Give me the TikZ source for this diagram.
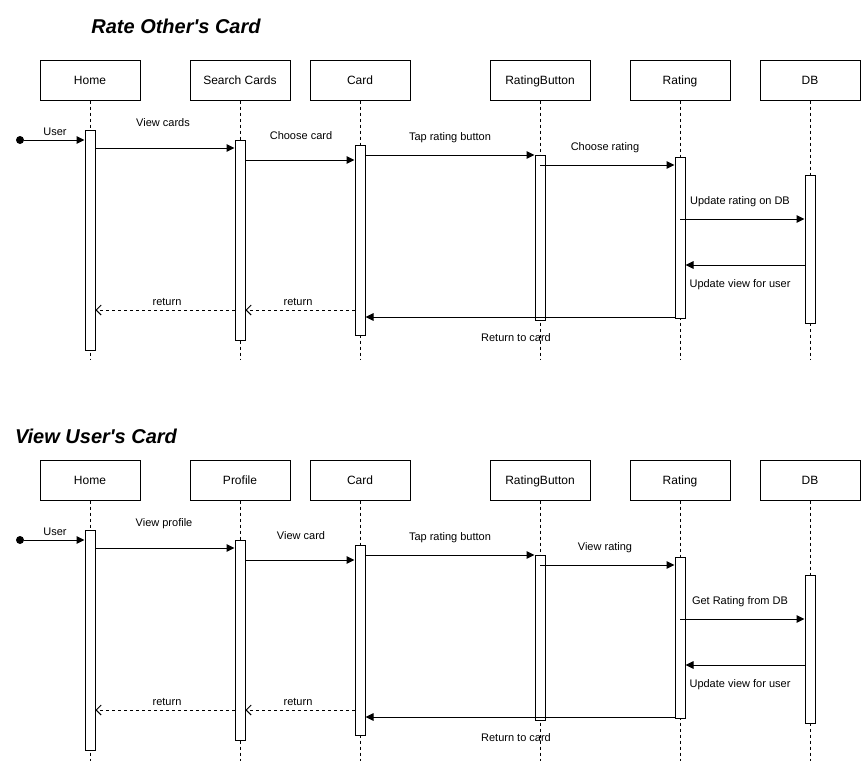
\documentclass[tikz,border=0pt]{standalone}
\usepackage{fontspec}
\setmainfont{Liberation Sans}
\newfontfamily\ttlfont{Liberation Sans}
\usetikzlibrary{arrows.meta}
\begin{document}
\begin{tikzpicture}[x=1pt,y=-1pt,
  head/.style={draw, line width=1pt, minimum width=100pt, minimum height=40pt, inner sep=0pt, text height=9.8pt, text depth=1.2pt, font=\fontsize{12}{14}\selectfont, fill=white},
  act/.style={draw, line width=1pt, fill=white, minimum width=10pt, inner sep=0pt, anchor=north},
  life/.style={line width=1pt, dash pattern=on 3pt off 3pt},
  msg/.style={line width=1pt, -{Triangle[length=8pt,width=7.5pt]}},
  ret/.style={line width=1pt, dash pattern=on 3pt off 3pt, -{Straight Barb[length=5pt,width=10pt]}},
  lbl/.style={font=\fontsize{11}{13}\selectfont, inner sep=0pt, text height=8.8pt, text depth=0.8pt},
  ttl/.style={font=\ttlfont\fontsize{20}{24}\selectfont\bfseries\itshape, inner sep=0pt},
  startdot/.style={circle, fill, inner sep=0pt, minimum size=8pt}]
\useasboundingbox (0,0) rectangle (861,761);

% ================= Top diagram =================
\node[ttl] (t1) at (176,26) {Rate Other's Card};

\node[head] (aHome) at (90,80) {Home};
\node[head] (aSearch) at (240,80) {Search Cards};
\node[head] (aCard) at (360,80) {Card};
\node[head] (aRB) at (540,80) {RatingButton};
\node[head] (aRating) at (680,80) {Rating};
\node[head] (aDB) at (810,80) {DB};

\coordinate (aHomeE) at (90,360);
\coordinate (aSearchE) at (240,360);
\coordinate (aCardE) at (360,360);
\coordinate (aRBE) at (540,360);
\coordinate (aRatingE) at (680,360);
\coordinate (aDBE) at (810,360);
\draw[life] (aHome.south) -- (aHomeE);
\draw[life] (aSearch.south) -- (aSearchE);
\draw[life] (aCard.south) -- (aCardE);
\draw[life] (aRB.south) -- (aRBE);
\draw[life] (aRating.south) -- (aRatingE);
\draw[life] (aDB.south) -- (aDBE);

\node[act, minimum height=220pt] (aHomeA) at (90,130) {};
\node[act, minimum height=200pt] (aSearchA) at (240,140) {};
\node[act, minimum height=190pt] (aCardA) at (360,145) {};
\node[act, minimum height=165pt] (aRBA) at (540,155) {};
\node[act, minimum height=161pt] (aRatingA) at (680,157) {};
\node[act, minimum height=148pt] (aDBA) at (810,175) {};

\node[startdot] (aStart) at (20,140) {};
\draw[msg] (aStart) -- (aHomeA.west |- aStart);
\node[lbl] (aL1) at (55,131) {User};

\draw[msg] (aHomeA.east |- 0,148) -- (aSearchA.west |- 0,148);
\node[lbl] (aL2) at (163,122) {View cards};
\draw[msg] (aSearchA.east |- 0,160) -- (aCardA.west |- 0,160);
\node[lbl] (aL3) at (301,135) {Choose card};
\draw[msg] (aCardA.east |- 0,155) -- (aRBA.west |- 0,155);
\node[lbl] (aL4) at (450,136) {Tap rating button};
\draw[msg] (aRBA.center |- 0,165) -- (aRatingA.west |- 0,165);
\node[lbl] (aL5) at (605,146) {Choose rating};
\draw[msg] (aRatingA.center |- 0,219) -- (aDBA.west |- 0,219);
\node[lbl] (aL6) at (740,200) {Update rating on DB};
\draw[msg] (aDBA.west |- 0,265) -- (aRatingA.east |- 0,265);
\node[lbl] (aL7) at (740,283) {Update view for user};
\draw[msg] (aRatingA.west |- 0,317) -- (aCardA.east |- 0,317);
\node[lbl] (aL8) at (516,337) {Return to card};
\draw[ret] (aCardA.west |- 0,310) -- (aSearchA.east |- 0,310);
\node[lbl] (aL9) at (298,301) {return};
\draw[ret] (aSearchA.west |- 0,310) -- (aHomeA.east |- 0,310);
\node[lbl] (aL10) at (167,301) {return};

% ================= Bottom diagram =================
\node[ttl] (t2) at (96,436) {View User's Card};

\node[head] (bHome) at (90,480) {Home};
\node[head] (bProfile) at (240,480) {Profile};
\node[head] (bCard) at (360,480) {Card};
\node[head] (bRB) at (540,480) {RatingButton};
\node[head] (bRating) at (680,480) {Rating};
\node[head] (bDB) at (810,480) {DB};

\coordinate (bHomeE) at (90,761);
\coordinate (bProfileE) at (240,761);
\coordinate (bCardE) at (360,761);
\coordinate (bRBE) at (540,761);
\coordinate (bRatingE) at (680,761);
\coordinate (bDBE) at (810,761);
\draw[life] (bHome.south) -- (bHomeE);
\draw[life] (bProfile.south) -- (bProfileE);
\draw[life] (bCard.south) -- (bCardE);
\draw[life] (bRB.south) -- (bRBE);
\draw[life] (bRating.south) -- (bRatingE);
\draw[life] (bDB.south) -- (bDBE);

\node[act, minimum height=220pt] (bHomeA) at (90,530) {};
\node[act, minimum height=200pt] (bProfileA) at (240,540) {};
\node[act, minimum height=190pt] (bCardA) at (360,545) {};
\node[act, minimum height=165pt] (bRBA) at (540,555) {};
\node[act, minimum height=161pt] (bRatingA) at (680,557) {};
\node[act, minimum height=148pt] (bDBA) at (810,575) {};

\node[startdot] (bStart) at (20,540) {};
\draw[msg] (bStart) -- (bHomeA.west |- bStart);
\node[lbl] (bL1) at (55,531) {User};

\draw[msg] (bHomeA.east |- 0,548) -- (bProfileA.west |- 0,548);
\node[lbl] (bL2) at (164,522) {View profile};
\draw[msg] (bProfileA.east |- 0,560) -- (bCardA.west |- 0,560);
\node[lbl] (bL3) at (301,535) {View card};
\draw[msg] (bCardA.east |- 0,555) -- (bRBA.west |- 0,555);
\node[lbl] (bL4) at (450,536) {Tap rating button};
\draw[msg] (bRBA.center |- 0,565) -- (bRatingA.west |- 0,565);
\node[lbl] (bL5) at (605,546) {View rating};
\draw[msg] (bRatingA.center |- 0,619) -- (bDBA.west |- 0,619);
\node[lbl] (bL6) at (740,600) {Get Rating from DB};
\draw[msg] (bDBA.west |- 0,665) -- (bRatingA.east |- 0,665);
\node[lbl] (bL7) at (740,683) {Update view for user};
\draw[msg] (bRatingA.west |- 0,717) -- (bCardA.east |- 0,717);
\node[lbl] (bL8) at (516,737) {Return to card};
\draw[ret] (bCardA.west |- 0,710) -- (bProfileA.east |- 0,710);
\node[lbl] (bL9) at (298,701) {return};
\draw[ret] (bProfileA.west |- 0,710) -- (bHomeA.east |- 0,710);
\node[lbl] (bL10) at (167,701) {return};
\end{tikzpicture}
\end{document}
